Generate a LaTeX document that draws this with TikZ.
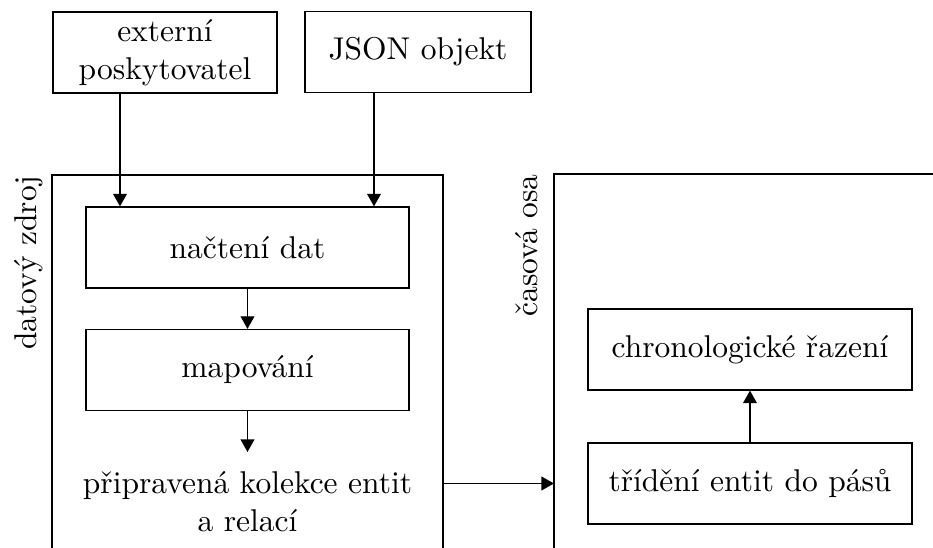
\documentclass[tikz,border=0pt]{standalone}
\usepackage{fontspec}
\usetikzlibrary{arrows.meta}
\begin{document}
\begin{tikzpicture}[x=0.3175pt,y=-0.3175pt,
  every node/.style={inner sep=0pt},
  box/.style={draw, align=center, minimum width=#1*0.3175pt, minimum height=81*0.3175pt},
  arr/.style={-{Triangle[length=4pt,width=4.4pt]}},
  sidelabel/.style={rotate=90, anchor=base east}]
\useasboundingbox (0,0) rectangle (933,548);

% input sources
\node[box=224] (ext) at (165,52.5) {externí\\poskytovatel};
\node[box=226] (json) at (418,52) {JSON objekt};

% data source group
\coordinate (dsTL) at (52,175);
\coordinate (dsTR) at (443,175);
\draw (52,560) -- (dsTL) -- (dsTR) -- (443,560);
\node[sidelabel] (dslab) at (36,175) {datový zdroj};
\node[box=323] (nac) at (247.5,247.5) {načtení dat};
\node[box=323] (map) at (247.5,370) {mapování};
\node[align=center] (prip) at (247.5,502) {připravená kolekce entit\\a relací};
\coordinate (pripin) at (247.5,452);

% timeline group
\coordinate (toTL) at (554,174);
\draw (554,560) -- (toTL) -- (945,174);
\node[sidelabel] (tolab) at (538,174) {časová osa};
\node[box=324] (chron) at (750,349.5) {chronologické řazení};
\node[box=324] (trid) at (750,483.5) {třídění entit do pásů};

% connectors
\coordinate (extdrop) at (120,0);
\coordinate (jsondrop) at (374,0);
\draw[arr] (ext.south -| extdrop) -- (nac.north -| extdrop);
\draw[arr] (json.south -| jsondrop) -- (nac.north -| jsondrop);
\draw[arr] (nac.south) -- (map.north);
\draw[arr] (map.south) -- (pripin);
\draw[arr] (dsTR |- trid) -- (toTL |- trid);
\draw[arr] (trid.north) -- (chron.south);
\end{tikzpicture}
\end{document}
